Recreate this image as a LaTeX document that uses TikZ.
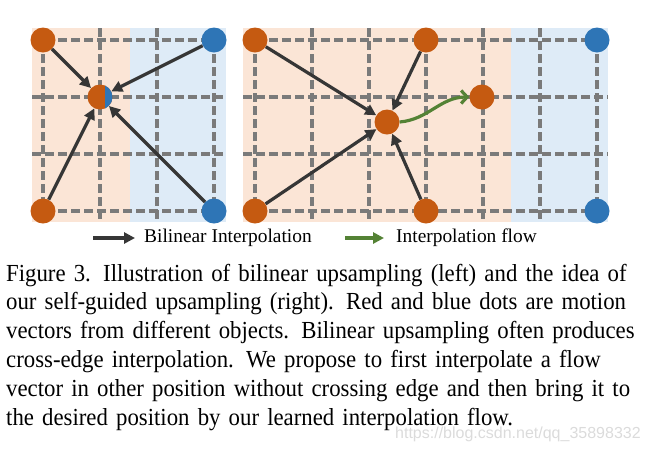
\documentclass[tikz,border=0pt]{standalone}
\usepackage{fontspec}
\setmainfont{Liberation Serif}
\newfontfamily\capserif[FakeStretch=0.93]{Liberation Serif}
\newfontfamily\marksans{Liberation Sans}
\usetikzlibrary{arrows.meta,positioning}
\definecolor{warm}{HTML}{FBE5D6}
\definecolor{cool}{HTML}{DEEBF7}
\definecolor{dotorange}{HTML}{C55A11}
\definecolor{dotblue}{HTML}{2E75B6}
\definecolor{gridgray}{HTML}{7A7A7A}
\definecolor{ink}{HTML}{363636}
\definecolor{flowgreen}{HTML}{548235}
\newcommand{\capline}[1]{\makebox[627pt][s]{#1}}

\begin{document}
\begin{tikzpicture}[x=1pt, y=-1pt,
  gridline/.style={draw=gridgray, line width=3.5pt, dash pattern=on 9pt off 4pt},
  vec/.style={circle, fill=#1, minimum size=25pt, inner sep=0pt},
  interp/.style={draw=ink, line width=3.2pt, -{Triangle[length=11pt, width=11pt]}},
  flowarrow/.style={draw=flowgreen, line width=3.2pt, -{Straight Barb[length=6pt, width=13pt]}},
  keyarrow/.style={line width=4pt},
  legend/.style={inner sep=0pt, font=\fontsize{19.4}{23}\selectfont},
  caption/.style={inner sep=0pt, anchor=base west, align=left, text width=627pt,
    font=\capserif\fontsize{24.5}{28.8}\selectfont},
]
\useasboundingbox (0,0) rectangle (648,451);

% two halves of each panel
\fill[warm] (32,28)  rectangle (130,222);
\fill[cool] (130,28) rectangle (226,222);
\fill[warm] (243,28) rectangle (511,222);
\fill[cool] (511,28) rectangle (608,222);

\foreach \x in {43,100,157,214} \draw[gridline] (\x,28) -- (\x,222);
\foreach \y in {40,97,154,211} \draw[gridline] (32,\y) -- (226,\y);
\foreach \x in {255,312,369,426,483,540,597} \draw[gridline] (\x,28) -- (\x,222);
\foreach \y in {40,97,154,211} \draw[gridline] (243,\y) -- (608,\y);

% left panel: bilinear upsampling
\node[vec=dotorange] (ltl) at (43,40)  {};
\node[vec=dotblue]   (ltr) at (214,40) {};
\node[vec=dotorange] (lbl) at (43,211) {};
\node[vec=dotblue]   (lbr) at (214,211) {};
\node[vec=dotorange] (lc)  at (100,97) {};
\begin{scope}
  \clip (105,80) rectangle (120,115);
  \fill[dotblue] (lc.center) circle (12.5);
\end{scope}

\draw[interp] (ltl) -- (lc);
\draw[interp] (ltr) -- (lc);
\draw[interp] (lbl) -- (lc);
\draw[interp] (lbr) -- (lc);

% right panel: self-guided upsampling
\node[vec=dotorange] (rtl)  at (255,40)  {};
\node[vec=dotorange] (rtop) at (426,40)  {};
\node[vec=dotblue]   (rtr)  at (597,40)  {};
\node[vec=dotorange] (rbl)  at (255,211) {};
\node[vec=dotorange] (rbot) at (426,211) {};
\node[vec=dotblue]   (rbr)  at (597,211) {};
\node[vec=dotorange] (rc)   at (387,122) {};
\node[vec=dotorange] (rt)   at (482,97)  {};

\draw[interp] (rtl)  -- (rc);
\draw[interp] (rtop) -- (rc);
\draw[interp] (rbl)  -- (rc);
\draw[interp] (rbot) -- (rc);
\draw[flowarrow] (rc.east) to[out=5, in=180] (rt.west);

% legend
\coordinate (k1) at (93,238);
\coordinate (k2) at (135,238);
\coordinate (k3) at (345,238);
\coordinate (k4) at (384,238);
\draw[interp, keyarrow] (k1) -- (k2);
\node[legend, right=9pt of k2] (klin) {Bilinear Interpolation};
\draw[flowarrow, keyarrow, -{Triangle[length=11pt, width=11pt]}] (k3) -- (k4);
\node[legend, right=12pt of k4] (kflow) {Interpolation flow};

\node[caption] (cap) at (6,281) {%
\capline{Figure 3. Illustration of bilinear upsampling (left) and the idea of}\\
\capline{our self-guided upsampling (right). Red and blue dots are motion}\\
\capline{vectors from different objects. Bilinear upsampling often produces}\\
\capline{cross-edge interpolation. We propose to first interpolate a flow}\\
\capline{vector in other position without crossing edge and then bring it to}\\
the desired position by our learned interpolation flow.};
\node[text=gray!28, inner sep=0pt, anchor=base west, font=\marksans\fontsize{16}{18}\selectfont]
  (mark) at (395,438) {https://blog.csdn.net/qq\_35898332};
\end{tikzpicture}
\end{document}
